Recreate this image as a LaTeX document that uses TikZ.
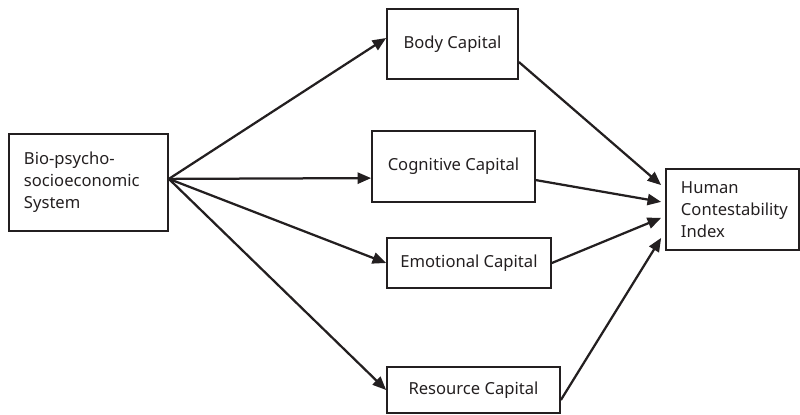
\documentclass[tikz,border=0pt]{standalone}
\usepackage{fontspec}
\setmainfont{Noto Sans}
\usetikzlibrary{arrows.meta}
\definecolor{ink}{RGB}{35,31,32}

\begin{document}
\begin{tikzpicture}[
    x=0.025cm, y=-0.025cm,
    font=\fontsize{11.8}{15.6}\selectfont,
    box/.style={rectangle, draw=ink, line width=1.2pt, text=ink, inner sep=0pt},
    arrow/.style={-{Triangle[length=0.34cm, width=0.28cm]}, line width=1.6pt, draw=ink}
]
    \useasboundingbox (0,0) rectangle (800,414);

    \node[box, minimum width=3.975cm, minimum height=2.425cm, text width=3.225cm, align=left] (sys) at (88.5,182.5) {Bio-psycho-\\socioeconomic\\System\\[-8pt]};
    \node[box, minimum width=3.275cm, minimum height=1.75cm] (body) at (452.5,44) {Body Capital};
    \node[box, minimum width=4.075cm, minimum height=1.775cm] (cog) at (453.5,166.5) {Cognitive Capital};
    \node[box, minimum width=4.1cm, minimum height=1.25cm] (emo) at (469,263) {Emotional Capital};
    \node[box, minimum width=4.325cm, minimum height=1.15cm] (res) at (473.5,390) {Resource Capital};
    \node[box, minimum width=3.325cm, minimum height=2.025cm, text width=2.575cm, align=left] (hci) at (732.5,209.5) {Human\\Contestability\\Index};

    \coordinate (fan) at ([yshift=0.09cm]sys.east);

    \draw[arrow] (fan) -- ([yshift=0.15cm]body.west);
    \draw[arrow] (fan) -- ([yshift=-0.29cm]cog.west);
    \draw[arrow] (fan) -- (emo.west);
    \draw[arrow] (fan) -- (res.west);

    \draw[arrow] ([yshift=-0.45cm]body.east) -- ([xshift=-0.1cm, yshift=0.61cm]hci.west);
    \draw[arrow] ([yshift=-0.34cm]cog.east) -- ([xshift=-0.1cm, yshift=0.19cm]hci.west);
    \draw[arrow] (emo.east) -- ([xshift=-0.1cm, yshift=-0.21cm]hci.west);
    \draw[arrow] ([yshift=-0.25cm]res.east) -- ([xshift=-0.1cm, yshift=-0.71cm]hci.west);
\end{tikzpicture}
\end{document}
